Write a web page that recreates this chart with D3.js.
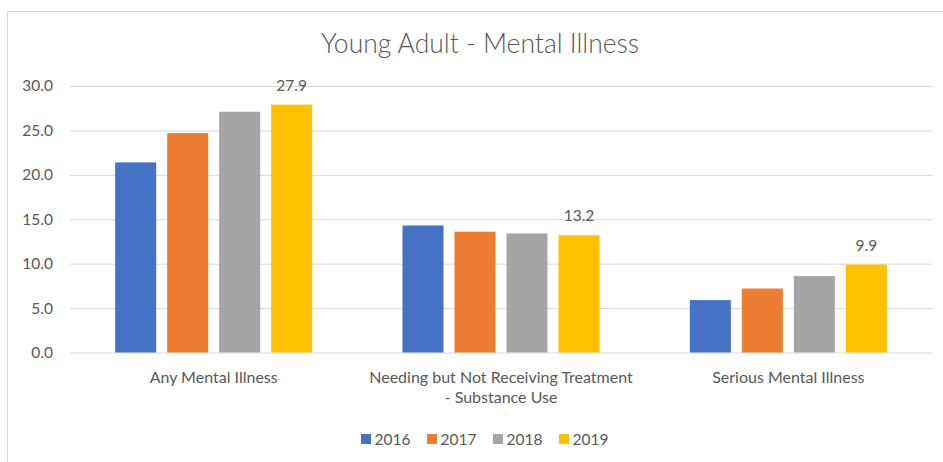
<!DOCTYPE html>
<html>
<head>
<meta charset="utf-8">
<script src="https://cdnjs.cloudflare.com/ajax/libs/d3/7.8.5/d3.min.js"></script>
<style>
  html, body { margin: 0; padding: 0; background: #fff; }
  svg { display: block; font-family: Lato, "Open Sans", sans-serif; }
</style>
</head>
<body>
<svg id="chart" width="943" height="462"></svg>
<script>
// Survey measures for young adults, by year (percent)
const categories = [
  ["Any Mental Illness"],
  ["Needing but Not Receiving Treatment", "- Substance Use"],
  ["Serious Mental Illness"]
];
const years = ["2016", "2017", "2018", "2019"];
const values2016 = [21.4, 14.3, 5.9];
const values2017 = [24.7, 13.6, 7.2];
const values2018 = [27.1, 13.4, 8.6];
const values2019 = [27.9, 13.2, 9.9];
const yTicks = [0, 5, 10, 15, 20, 25, 30];
const title = "Young Adult - Mental Illness";

const seriesValues = [values2016, values2017, values2018, values2019];
const colors = ["#4472C4", "#ED7D31", "#A5A5A5", "#FFC000"];
const textColor = "#595959";
const gridColor = "#D9D9D9";
const font = "Lato, 'Open Sans', sans-serif";

const svg = d3.select("#chart");

// chart frame
svg.append("rect")
  .attr("x", 7.5).attr("y", 11.5)
  .attr("width", 960).attr("height", 470)
  .attr("fill", "#fff")
  .attr("stroke", gridColor).attr("stroke-width", 1);

const plot = { left: 70, right: 932, top: 86, bottom: 352.5 };

const catIdx = d3.range(categories.length);
const x0 = d3.scaleBand().domain(catIdx).range([plot.left, plot.right]).padding(0);
const x1 = d3.scaleBand().domain(years).range([0, x0.bandwidth()])
  .paddingInner(0.2115).paddingOuter(0.8686);
const y = d3.scaleLinear().domain([0, 30]).range([plot.bottom, plot.top]);

// title
svg.append("text")
  .attr("x", 480).attr("y", 53)
  .attr("text-anchor", "middle")
  .attr("font-size", 26.5).attr("font-weight", 300)
  .attr("fill", textColor)
  .text(title);

// gridlines + y labels
const yAxis = d3.axisLeft(y).tickValues(yTicks)
  .tickSize(-(plot.right - plot.left)).tickPadding(17)
  .tickFormat(d3.format(".1f"));
const gy = svg.append("g").attr("transform", `translate(${plot.left},0)`).call(yAxis);
gy.select(".domain").remove();
gy.selectAll(".tick line").attr("stroke", gridColor).attr("stroke-width", 1);
gy.selectAll(".tick text").attr("fill", textColor).attr("font-size", 15.5)
  .attr("font-family", font);

// bars
const groups = svg.append("g").selectAll("g")
  .data(catIdx).join("g")
  .attr("transform", i => `translate(${x0(i)},0)`);

groups.selectAll("rect")
  .data(i => years.map((yr, s) => ({ yr, s, v: seriesValues[s][i] })))
  .join("rect")
  .attr("x", d => x1(d.yr))
  .attr("width", x1.bandwidth())
  .attr("y", d => y(d.v))
  .attr("height", d => y(0) - y(d.v))
  .attr("fill", d => colors[d.s]);

// value labels on the latest year
groups.append("text")
  .attr("x", x1("2019") + x1.bandwidth() / 2)
  .attr("y", i => y(values2019[i]) - 14)
  .attr("text-anchor", "middle")
  .attr("font-size", 15.5)
  .attr("fill", textColor)
  .text(i => d3.format(".1f")(values2019[i]));

// category labels
const xAxis = d3.axisBottom(x0).tickSize(0).tickFormat(() => "");
const gx = svg.append("g").attr("transform", `translate(0,${plot.bottom})`).call(xAxis);
gx.select(".domain").remove();
gx.selectAll(".tick").each(function(i) {
  const t = d3.select(this).append("text")
    .attr("text-anchor", "middle").attr("fill", textColor)
    .attr("font-size", 16).attr("font-family", font);
  categories[i].forEach((line, k) => {
    t.append("tspan").attr("x", 0).attr("y", 30 + k * 20).text(line);
  });
});

// legend
const legend = svg.append("g").selectAll("g")
  .data(years).join("g")
  .attr("transform", (d, k) => `translate(${361 + k * 66},434)`);
legend.append("rect").attr("width", 10).attr("height", 10)
  .attr("fill", (d, k) => colors[k]);
legend.append("text").attr("x", 13.5).attr("y", 10.5)
  .attr("font-size", 15.5).attr("fill", textColor).text(d => d);
</script>
</body>
</html>
